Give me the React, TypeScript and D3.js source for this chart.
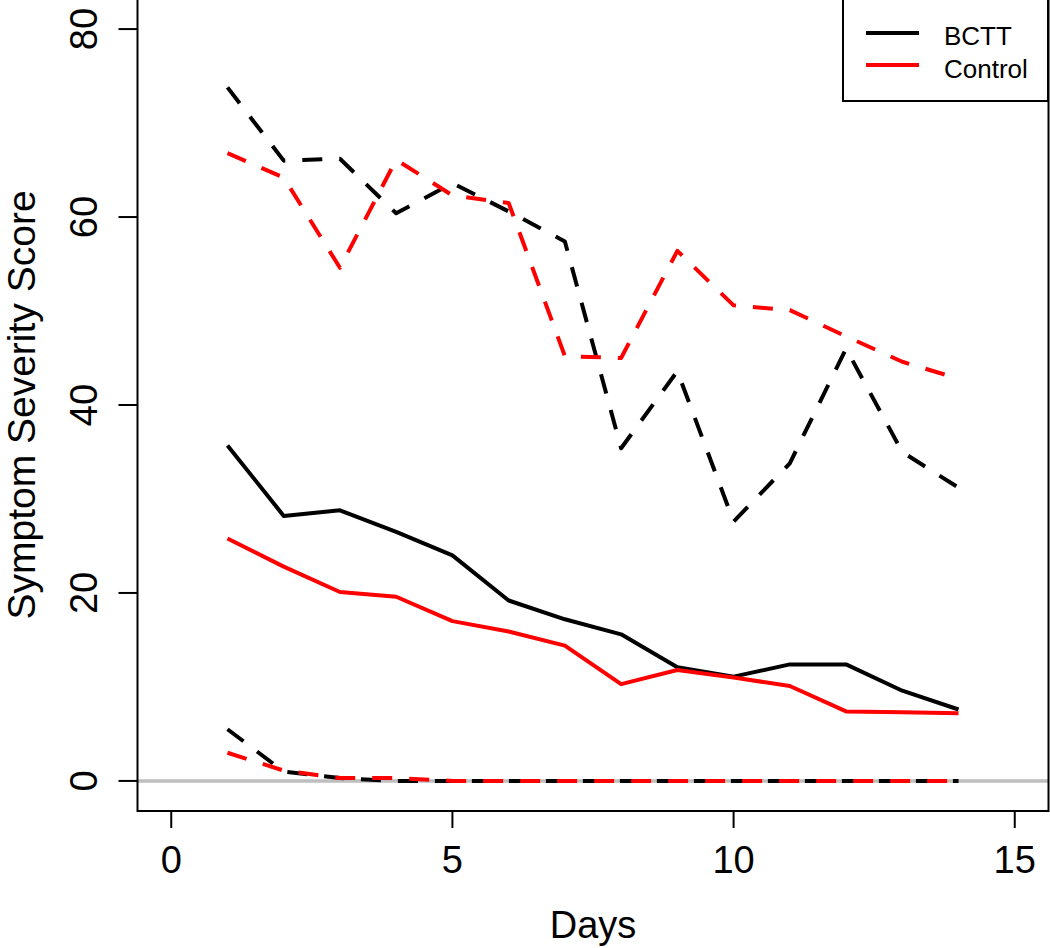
import React from 'react';
import * as d3 from 'd3';

const days = [1, 2, 3, 4, 5, 6, 7, 8, 9, 10, 11, 12, 13, 14];

// solid lines (mean)
const bcttMean = [35.7, 28.2, 28.8, 26.5, 24.0, 19.2, 17.2, 15.6, 12.1, 11.1, 12.4, 12.4, 9.6, 7.6];
const controlMean = [25.8, 22.8, 20.1, 19.6, 17.0, 15.9, 14.4, 10.3, 11.8, 11.0, 10.1, 7.4, 7.3, 7.2];

// dashed lines (upper / lower)
const bcttUpper = [73.8, 66.0, 66.2, 60.4, 63.6, 60.6, 57.4, 35.4, 43.6, 27.6, 33.8, 46.0, 35.0, 31.2];
const controlUpper = [66.8, 64.2, 54.6, 66.1, 62.3, 61.5, 45.2, 45.0, 56.4, 50.6, 50.1, 47.3, 44.6, 42.8];
const bcttLower = [5.5, 1.0, 0.3, 0, 0, 0, 0, 0, 0, 0, 0, 0, 0, 0];
const controlLower = [3.0, 1.1, 0.3, 0.3, 0, 0, 0, 0, 0, 0, 0, 0, 0, 0];

const xTicks = [0, 5, 10, 15];
const yTicks = [0, 20, 40, 60, 80];

const legendItems = [
  { label: 'BCTT', color: '#000000' },
  { label: 'Control', color: '#ff0000' },
];

const W = 1050;
const H = 948;
const box = { left: 137.5, right: 1048.5, top: -1, bottom: 811 };
const FONT = 'Liberation Sans, Arial, sans-serif';

export default function App() {
  const x = d3.scaleLinear().domain([-0.6, 15.6]).range([box.left, box.right]);
  const y = d3.scaleLinear().domain([-3.2, 83.2]).range([box.bottom, box.top]);

  const line = d3.line<number>()
    .x((_, i) => x(days[i]))
    .y(d => y(d));

  const series = [
    { values: bcttUpper, color: '#000000', dash: '20 17' },
    { values: bcttLower, color: '#000000', dash: '20 17' },
    { values: bcttMean, color: '#000000', dash: null },
    { values: controlUpper, color: '#ff0000', dash: '20 17' },
    { values: controlLower, color: '#ff0000', dash: '20 17' },
    { values: controlMean, color: '#ff0000', dash: null },
  ];

  return (
    <svg
      width={W}
      height={H}
      style={{ position: 'absolute', left: 0, top: 0, background: '#fff' }}
      fontFamily={FONT}
    >
      <rect x={0} y={0} width={W} height={H} fill="#fff" />

      {/* zero reference line */}
      <line
        x1={box.left}
        x2={box.right}
        y1={y(0)}
        y2={y(0)}
        stroke="#bebebe"
        strokeWidth={3.5}
      />

      {series.map((s, i) => (
        <path
          key={i}
          d={line(s.values) || ''}
          fill="none"
          stroke={s.color}
          strokeWidth={4}
          strokeDasharray={s.dash || undefined}
          strokeLinejoin="round"
        />
      ))}

      {/* plot box */}
      <rect
        x={box.left}
        y={box.top}
        width={box.right - box.left}
        height={box.bottom - box.top}
        fill="none"
        stroke="#000"
        strokeWidth={2}
      />

      {/* x axis */}
      {xTicks.map(t => (
        <g key={t}>
          <line x1={x(t)} x2={x(t)} y1={box.bottom} y2={box.bottom + 17} stroke="#000" strokeWidth={2} />
          <text x={x(t)} y={873} textAnchor="middle" fontSize={38} fill="#000">
            {t}
          </text>
        </g>
      ))}
      <text x={(box.left + box.right) / 2} y={938} textAnchor="middle" fontSize={38} fill="#000">
        Days
      </text>

      {/* y axis */}
      {yTicks.map(t => (
        <g key={t}>
          <line x1={box.left - 19} x2={box.left} y1={y(t)} y2={y(t)} stroke="#000" strokeWidth={2} />
          <text
            transform={`translate(97,${y(t)}) rotate(-90)`}
            textAnchor="middle"
            fontSize={38}
            fill="#000"
          >
            {t}
          </text>
        </g>
      ))}
      <text
        transform={`translate(35,${(box.top + box.bottom) / 2}) rotate(-90)`}
        textAnchor="middle"
        fontSize={39}
        fill="#000"
      >
        Symptom Severity Score
      </text>

      {/* legend */}
      <rect x={843} y={-1} width={205} height={102} fill="#fff" stroke="#000" strokeWidth={2} />
      {legendItems.map((item, i) => (
        <g key={item.label}>
          <line x1={866} x2={919} y1={33 + i * 32} y2={33 + i * 32} stroke={item.color} strokeWidth={4} />
          <text x={944} y={45 + i * 33} fontSize={26} fill="#000">
            {item.label}
          </text>
        </g>
      ))}
    </svg>
  );
}
